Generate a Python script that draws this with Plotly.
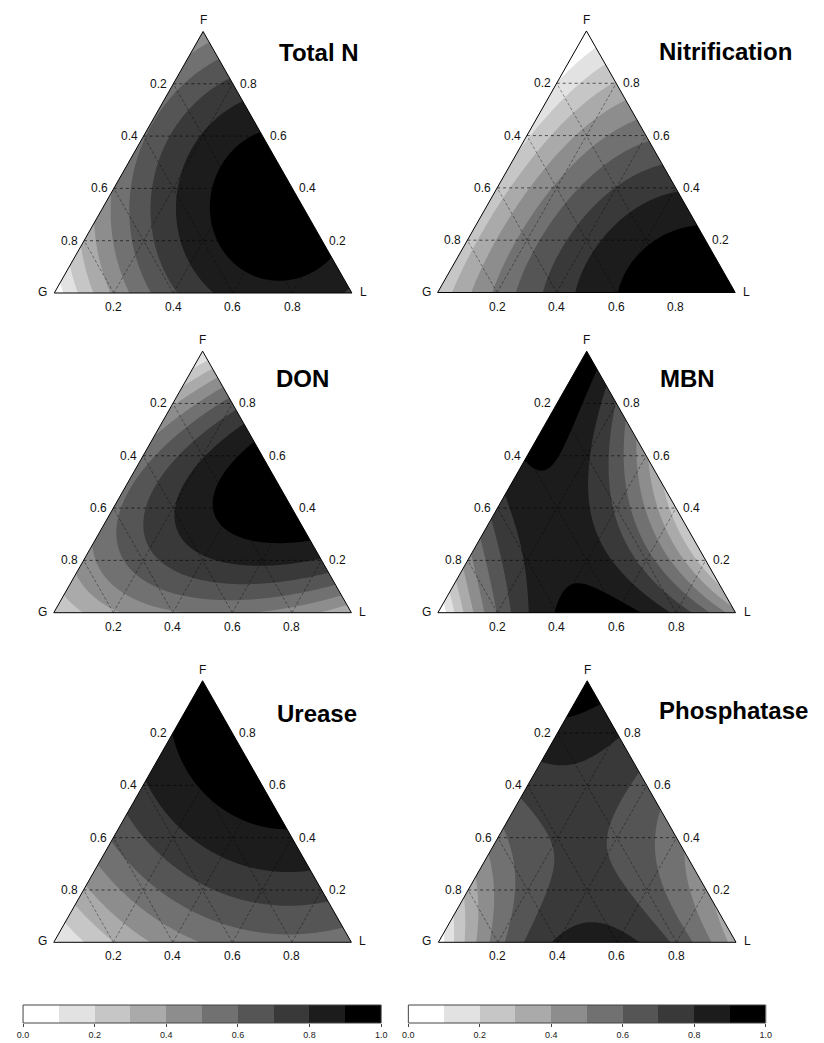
import numpy as np
import plotly.graph_objects as go

# ---------------- data ----------------
# reading points on the ternary grid (F = top vertex, L = right vertex, G = 1-F-L)
GRID_F = [0.0] * 6 + [0.2] * 5 + [0.4] * 4 + [0.6] * 3 + [0.8] * 2 + [1.0]
GRID_L = [0.0, 0.2, 0.4, 0.6, 0.8, 1.0,
          0.0, 0.2, 0.4, 0.6, 0.8,
          0.0, 0.2, 0.4, 0.6,
          0.0, 0.2, 0.4,
          0.0, 0.2,
          0.0]

# relative response (0-1) read at each grid point
TOTAL_N = [0.03, 0.40, 0.70, 0.85, 0.85, 0.80,
           0.33, 0.65, 0.85, 0.95, 0.93,
           0.55, 0.80, 0.95, 0.96,
           0.55, 0.85, 0.92,
           0.52, 0.72,
           0.45]
NITRIFICATION = [0.22, 0.52, 0.74, 0.90, 0.99, 1.00,
                 0.24, 0.56, 0.75, 0.88, 0.94,
                 0.22, 0.53, 0.69, 0.79,
                 0.18, 0.45, 0.58,
                 0.10, 0.30,
                 0.00]
DON = [0.22, 0.38, 0.45, 0.47, 0.45, 0.32,
       0.45, 0.62, 0.84, 0.86, 0.80,
       0.55, 0.91, 0.98, 0.97,
       0.50, 0.76, 0.90,
       0.35, 0.65,
       0.13]
MBN = [0.00, 0.60, 0.90, 0.97, 0.75, 0.40,
       0.45, 0.83, 0.86, 0.68, 0.35,
       0.75, 0.83, 0.65, 0.17,
       0.93, 0.86, 0.30,
       0.96, 0.84,
       0.97]
UREASE = [0.02, 0.40, 0.46, 0.50, 0.55, 0.55,
          0.40, 0.55, 0.65, 0.75, 0.75,
          0.60, 0.75, 0.87, 0.90,
          0.80, 0.93, 0.95,
          0.90, 0.97,
          0.96]
PHOSPHATASE = [0.03, 0.58, 0.75, 0.92, 0.63, 0.35,
               0.35, 0.65, 0.75, 0.65, 0.45,
               0.55, 0.70, 0.68, 0.52,
               0.74, 0.77, 0.64,
               0.87, 0.84,
               0.96]

TITLES = ["Total N", "Nitrification", "DON", "MBN", "Urease", "Phosphatase"]
PANEL_VALUES = [TOTAL_N, NITRIFICATION, DON, MBN, UREASE, PHOSPHATASE]
VERTEX_NAMES = ["G", "F", "L"]
EDGE_TICKS = [0.2, 0.4, 0.6, 0.8]
BAND_MIDS = [0.05, 0.15, 0.25, 0.35, 0.45, 0.55, 0.65, 0.75, 0.85, 0.95]
SCALE_TICKS = [0.0, 0.2, 0.4, 0.6, 0.8, 1.0]

# ---------------- styling / layout ----------------
W, H = 824, 1043
SIDE = 302.0
HT = np.sqrt(3) / 2
PAD = 0.04
PANEL_LEFT = [49.0, 438.0, 48.5, 438.3, 48.5, 438.8]
PANEL_BASE = [293.0, 292.5, 612.7, 612.7, 942.3, 942.3]
MODEL_ORDER = [2, 3, 2, 3, 2, 3]
TITLE_POS = [(0.89, 0.798), (0.969, 0.798), (0.837, 0.774),
             (0.84, 0.777), (0.886, 0.759), (0.993, 0.766)]
GRAYS = ["#ffffff", "#e2e2e2", "#c6c6c6", "#aaaaaa", "#8d8d8d",
         "#717171", "#555555", "#393939", "#1c1c1c", "#000000"]
CBAR_X = [(17.3, 380.7), (408.3, 771.0)]
CBAR_Y = (1005.0, 1023.0)
FONT = "Liberation Sans, Arial, sans-serif"

contour_scale = [[k / 9, c] for k, c in enumerate(GRAYS)]
step_scale = []
for k, c in enumerate(GRAYS):
    step_scale += [[k / 10, c], [(k + 1) / 10, c]]


def basis(G, F, L, order):
    terms = [G, F, L, G * F, G * L, F * L]
    if order == 3:
        terms += [G * F * (G - F), G * L * (G - L), F * L * (F - L), G * F * L]
    return np.stack(terms, axis=-1)


f_pts = np.array(GRID_F)
l_pts = np.array(GRID_L)
g_pts = 1 - f_pts - l_pts

xs = np.linspace(0, 1, 241)
ys = np.linspace(0, HT, 211)
X, Y = np.meshgrid(xs, ys)
Fg = Y / HT
Lg = X - Fg / 2
Gg = 1 - Fg - Lg

fig = go.Figure()
shapes = []
annotations = []
layout_axes = {}

for i, (vals, title) in enumerate(zip(PANEL_VALUES, TITLES)):
    n = i + 1
    xa, ya = f"x{n}", f"y{n}"
    order = MODEL_ORDER[i]
    A = basis(g_pts, f_pts, l_pts, order)
    coef, *_ = np.linalg.lstsq(A, np.array(vals), rcond=None)
    Z = np.clip(basis(Gg, Fg, Lg, order) @ coef, -0.05, 1.05)
    fig.add_trace(go.Contour(
        x=xs, y=ys, z=Z, xaxis=xa, yaxis=ya,
        colorscale=contour_scale, autocontour=False,
        contours=dict(start=0.1, end=0.9, size=0.1, coloring="fill", showlines=False),
        line=dict(width=0), showscale=False, hoverinfo="skip"))

    gx, base = PANEL_LEFT[i], PANEL_BASE[i]
    x0p = gx - PAD * SIDE
    x1p = gx + SIDE + PAD * SIDE
    ybot = base + PAD * SIDE
    ytop = base - HT * SIDE - PAD * SIDE
    layout_axes[f"xaxis{n}"] = dict(domain=[x0p / W, x1p / W], range=[-PAD, 1 + PAD],
                                    anchor=ya, visible=False, fixedrange=True)
    layout_axes[f"yaxis{n}"] = dict(domain=[1 - ybot / H, 1 - ytop / H],
                                    range=[-PAD, HT + PAD], anchor=xa,
                                    visible=False, fixedrange=True)

    # white masks outside the triangle (cover whole padded area)
    e = 2 * PAD
    shapes.append(dict(type="path", xref=xa, yref=ya, layer="above",
                       path=f"M {-e},{-e} L 0,{-e} L 0,0 L 0.5,{HT} L 0.5,{HT + e} L {-e},{HT + e} Z",
                       fillcolor="white", line=dict(width=0)))
    shapes.append(dict(type="path", xref=xa, yref=ya, layer="above",
                       path=f"M {1 + e},{-e} L 1,{-e} L 1,0 L 0.5,{HT} L 0.5,{HT + e} L {1 + e},{HT + e} Z",
                       fillcolor="white", line=dict(width=0)))
    # grid lines
    for t in EDGE_TICKS:
        shapes.append(dict(type="line", xref=xa, yref=ya, layer="above",
                           x0=t / 2, y0=t * HT, x1=1 - t / 2, y1=t * HT,
                           line=dict(color="rgba(0,0,0,0.75)", width=0.8, dash="dot")))
        shapes.append(dict(type="line", xref=xa, yref=ya, layer="above",
                           x0=t, y0=0, x1=t + (1 - t) / 2, y1=(1 - t) * HT,
                           line=dict(color="rgba(0,0,0,0.55)", width=0.7, dash="3px,2px")))
        shapes.append(dict(type="line", xref=xa, yref=ya, layer="above",
                           x0=1 - t, y0=0, x1=(1 - t) / 2, y1=(1 - t) * HT,
                           line=dict(color="rgba(0,0,0,0.55)", width=0.7, dash="3px,2px")))
    # triangle outline
    shapes.append(dict(type="path", xref=xa, yref=ya, layer="above",
                       path=f"M 0,0 L 1,0 L 0.5,{HT} Z",
                       fillcolor="rgba(0,0,0,0)", line=dict(color="black", width=1)))

    lab = dict(xref=xa, yref=ya, showarrow=False,
               font=dict(family=FONT, size=12, color="#111"))
    for t in EDGE_TICKS:
        annotations.append(dict(lab, x=t / 2, y=t * HT, text=f"{1 - t:.1f}",
                                xanchor="right", yanchor="middle", xshift=-4))
        annotations.append(dict(lab, x=1 - t / 2, y=t * HT, text=f"{t:.1f}",
                                xanchor="left", yanchor="middle", xshift=5))
        annotations.append(dict(lab, x=t, y=0, text=f"{t:.1f}",
                                xanchor="center", yanchor="top", yshift=-5))
    annotations.append(dict(lab, x=0, y=0, text=VERTEX_NAMES[0],
                            xanchor="right", yanchor="middle", xshift=-5, yshift=1))
    annotations.append(dict(lab, x=0.5, y=HT, text=VERTEX_NAMES[1],
                            xanchor="center", yanchor="bottom", yshift=2))
    annotations.append(dict(lab, x=1, y=0, text=VERTEX_NAMES[2],
                            xanchor="left", yanchor="middle", xshift=6, yshift=1))
    tx, ty = TITLE_POS[i]
    annotations.append(dict(xref=xa, yref=ya, x=tx, y=ty, text=f"<b>{title}</b>",
                            showarrow=False, xanchor="center", yanchor="middle",
                            font=dict(family=FONT, size=24, color="black")))

# colour keys
for j, (cx0, cx1) in enumerate(CBAR_X):
    n = 7 + j
    xa, ya = f"x{n}", f"y{n}"
    fig.add_trace(go.Heatmap(
        x=BAND_MIDS, y=[0.5], z=[BAND_MIDS], xaxis=xa, yaxis=ya,
        colorscale=step_scale, zmin=0, zmax=1, showscale=False, hoverinfo="skip"))
    layout_axes[f"xaxis{n}"] = dict(
        domain=[cx0 / W, cx1 / W], range=[0, 1], anchor=ya, tickvals=SCALE_TICKS,
        ticktext=[f"{v:.1f}" for v in SCALE_TICKS], ticks="outside", ticklen=3,
        tickcolor="#444", tickfont=dict(family=FONT, size=9, color="#222"),
        showgrid=False, zeroline=False, showline=False, fixedrange=True)
    layout_axes[f"yaxis{n}"] = dict(domain=[1 - CBAR_Y[1] / H, 1 - CBAR_Y[0] / H],
                                    range=[0, 1], anchor=xa, visible=False, fixedrange=True)
    shapes.append(dict(type="rect", xref="paper", yref="paper",
                       x0=cx0 / W, x1=cx1 / W, y0=1 - CBAR_Y[1] / H, y1=1 - CBAR_Y[0] / H,
                       line=dict(color="#444", width=1), fillcolor="rgba(0,0,0,0)"))

fig.update_layout(
    width=W, height=H, margin=dict(l=0, r=0, t=0, b=0), autosize=False,
    paper_bgcolor="white", plot_bgcolor="white", showlegend=False,
    shapes=shapes, annotations=annotations, **layout_axes)

fig.write_html("out.html", config={"displayModeBar": False},
               post_script="document.body.style.margin='0';document.body.style.overflow='hidden';")
